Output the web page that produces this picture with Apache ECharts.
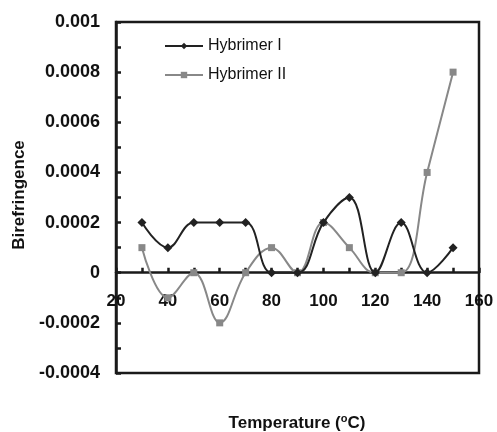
<!DOCTYPE html>
<html>
<head>
<meta charset="utf-8">
<script src="https://cdn.jsdelivr.net/npm/echarts@6/dist/echarts.min.js"></script>
<style>
html,body{margin:0;padding:0;background:#fff;}
#chart{width:497px;height:432px;}
</style>
</head>
<body>
<div id="chart"></div>
<script>
var temperatures = [30, 40, 50, 60, 70, 80, 90, 100, 110, 120, 130, 140, 150];
var hybrimerI  = [0.0002, 0.0001, 0.0002, 0.0002, 0.0002, 0, 0, 0.0002, 0.0003, 0, 0.0002, 0, 0.0001];
var hybrimerII = [0.0001, -0.0001, 0, -0.0002, 0, 0.0001, 0, 0.0002, 0.0001, 0, 0, 0.0004, 0.0008];
var seriesNames = ['Hybrimer I', 'Hybrimer II'];
var xTitle = 'Temperature (';
var yTitle = 'Birefringence';

function pairs(xs, ys) { return xs.map(function (x, i) { return [x, ys[i]]; }); }

var FONT = 'Arial, "Liberation Sans", sans-serif';
var GRID_TOP = 22, GRID_BOTTOM = 59, H = 432;
var Y_MIN = -0.0004, Y_MAX = 0.001;
// distance of the zero line above the plot bottom (axis crosses at y = 0)
var zeroOffset = (H - GRID_TOP - GRID_BOTTOM) * (0 - Y_MIN) / (Y_MAX - Y_MIN);

var chart = echarts.init(document.getElementById('chart'), null, {renderer: 'canvas'});
chart.setOption({
  backgroundColor: '#fff',
  animation: false,
  grid: {left: 116, right: 18, top: GRID_TOP, bottom: GRID_BOTTOM, show: true, borderColor: '#1a1a1a', borderWidth: 2.5, backgroundColor: 'transparent'},
  legend: {
    orient: 'vertical', left: 159, top: 33, itemGap: 13, itemWidth: 38, itemHeight: 8,
    textStyle: {fontFamily: FONT, fontSize: 16, color: '#111'},
    data: seriesNames
  },
  xAxis: {
    type: 'value', min: 20, max: 160, interval: 20, position: 'bottom', offset: -zeroOffset,
    axisLine: {show: true, onZero: false, lineStyle: {color: '#1a1a1a', width: 2.5}},
    axisTick: {show: true, inside: true, length: 5, lineStyle: {color: '#1a1a1a', width: 2.5}},
    minorTick: {show: true, splitNumber: 2, length: 5, lineStyle: {color: '#1a1a1a', width: 2.5}},
    axisLabel: {margin: 20, fontFamily: FONT, fontSize: 17, fontWeight: 'bold', color: '#111'},
    splitLine: {show: false}
  },
  yAxis: {
    type: 'value', min: Y_MIN, max: Y_MAX, interval: 0.0002,
    axisLine: {show: true, lineStyle: {color: '#1a1a1a', width: 2.5}},
    axisTick: {show: true, inside: true, length: 5, lineStyle: {color: '#1a1a1a', width: 2.5}},
    minorTick: {show: true, splitNumber: 2, length: 5, lineStyle: {color: '#1a1a1a', width: 2.5}},
    axisLabel: {margin: 16, fontFamily: FONT, fontSize: 18, fontWeight: 'bold', color: '#111',
      formatter: function (v) { return String(+v.toFixed(4)); }},
    splitLine: {show: false}
  },
  graphic: [
    {type: 'text', x: 297, y: 423, style: {
      text: '{b|' + xTitle + '}{s|o}{b|C)}', align: 'center', verticalAlign: 'middle',
      rich: {
        b: {fontFamily: FONT, fontSize: 17, fontWeight: 'bold', fill: '#111', color: '#111'},
        s: {fontFamily: FONT, fontSize: 11, fontWeight: 'bold', fill: '#111', color: '#111', verticalAlign: 'top', padding: [0, 0, 8, 0]}
      }}},
    {type: 'text', x: 19, y: 195, rotation: Math.PI / 2, style: {
      text: yTitle, align: 'center', verticalAlign: 'middle',
      font: 'bold 17px ' + FONT, fill: '#111'}}
  ],
  series: [
    {name: seriesNames[0], type: 'line', smooth: 0.4, data: pairs(temperatures, hybrimerI),
     symbol: 'diamond', symbolSize: 9, showAllSymbol: true,
     itemStyle: {color: '#222'}, lineStyle: {color: '#222', width: 2}, z: 3},
    {name: seriesNames[1], type: 'line', smooth: 0.4, data: pairs(temperatures, hybrimerII),
     symbol: 'rect', symbolSize: 7, showAllSymbol: true,
     itemStyle: {color: '#888'}, lineStyle: {color: '#888', width: 2}, z: 2}
  ]
});
</script>
</body>
</html>
